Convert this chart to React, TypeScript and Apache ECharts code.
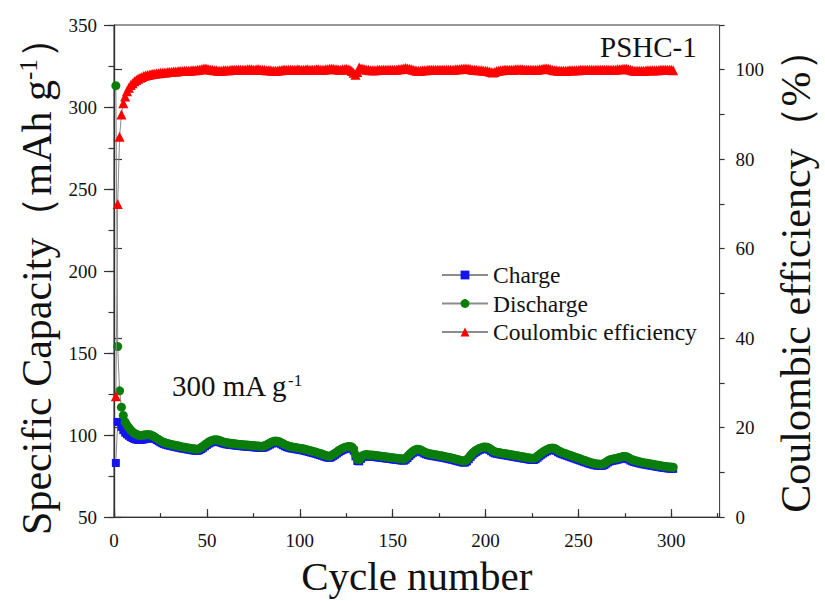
import React, { useEffect, useRef } from 'react';
import * as echarts from 'echarts';

// Charge capacity (mAh g-1), cycles 1..301
const chargeCapacity: number[] = [
  83, 108, 108, 105, 103, 101.5, 100.5, 99.6, 98.8, 98.2,
  97.6, 97.3, 97, 97, 97.1, 97.4, 97.7, 97.9, 98, 97.9,
  98.5, 97.8, 97, 96.3, 95.6, 95, 94.5, 94.1, 93.8, 93.5,
  93.3, 93, 92.8, 92.5, 92.3, 92, 91.8, 91.6, 91.4, 91.2,
  91, 90.8, 90.6, 90.5, 90.4, 90.8, 91.5, 92.3, 93.2, 94,
  94.8, 95.4, 95.8, 96.1, 96.2, 96, 95.6, 95.2, 94.8, 94.5,
  94.3, 94.1, 94, 93.9, 93.7, 93.5, 93.4, 93.3, 93.2, 93.1,
  93, 92.9, 92.8, 92.7, 92.6, 92.5, 92.4, 92.3, 92.2, 92.2,
  92.5, 93, 93.6, 94.2, 94.8, 95.2, 95.4, 95.3, 95, 94.4,
  93.8, 93.2, 92.7, 92.3, 92, 91.8, 91.6, 91.4, 91.2, 91,
  90.8, 90.6, 90.3, 90, 89.7, 89.4, 89.1, 88.8, 88.5, 88.1,
  87.8, 87.4, 87, 86.6, 86.3, 86.1, 86.5, 87.2, 88, 88.8,
  89.6, 90.3, 90.9, 91.4, 91.8, 92, 92.1, 91.8, 90.5, 87,
  84.2, 84, 85.5, 86.6, 87, 87.1, 87, 86.9, 86.8, 86.7,
  86.6, 86.4, 86.3, 86.1, 86, 85.8, 85.7, 85.5, 85.4, 85.2,
  85.1, 84.9, 84.8, 84.6, 84.5, 84.4, 85, 86, 87.2, 88.3,
  89.2, 89.9, 90.3, 90.3, 90, 89.4, 88.8, 88.3, 87.9, 87.6,
  87.4, 87.2, 87, 86.8, 86.6, 86.4, 86.2, 86, 85.7, 85.5,
  85.2, 85, 84.7, 84.4, 84.1, 83.8, 83.5, 83.2, 83.3, 84,
  85.3, 86.7, 88, 89, 89.8, 90.5, 91, 91.4, 91.7, 91.8,
  91.6, 91, 90.2, 89.4, 88.9, 88.6, 88.4, 88.2, 88, 87.8,
  87.6, 87.4, 87.2, 87, 86.8, 86.6, 86.4, 86.2, 86, 85.8,
  85.6, 85.4, 85.2, 85, 84.9, 84.8, 85.3, 86.2, 87.1, 88,
  88.8, 89.5, 90.1, 90.6, 91, 91.1, 91, 90.4, 89.6, 89,
  88.5, 88.1, 87.7, 87.3, 86.9, 86.5, 86.1, 85.7, 85.3, 84.9,
  84.5, 84.1, 83.7, 83.3, 82.9, 82.5, 82.2, 81.9, 81.6, 81.4,
  81.3, 81.2, 81.3, 81.8, 82.6, 83.4, 84, 84.3, 84.5, 84.7,
  85, 85.3, 85.6, 85.9, 86, 85.8, 85.2, 84.5, 84, 83.6,
  83.3, 83, 82.7, 82.5, 82.2, 82, 81.8, 81.6, 81.4, 81.2,
  81, 80.8, 80.6, 80.4, 80.2, 80, 79.9, 79.7, 79.6, 79.5,
  79.4,
];

// Discharge capacity (mAh g-1), cycles 1..301
const dischargeCapacity: number[] = [
  313, 154, 127, 117, 112, 108, 106, 104.5, 103, 102,
  101, 100.5, 100, 99.8, 99.8, 100, 100.2, 100.3, 100.2, 100,
  99.5, 98.8, 98, 97.3, 96.6, 96, 95.5, 95.1, 94.8, 94.5,
  94.3, 94, 93.8, 93.5, 93.3, 93, 92.8, 92.6, 92.4, 92.2,
  92, 91.8, 91.6, 91.5, 91.4, 91.8, 92.5, 93.3, 94.2, 95,
  95.8, 96.4, 96.8, 97.1, 97.2, 97, 96.6, 96.2, 95.8, 95.5,
  95.3, 95.1, 95, 94.9, 94.7, 94.5, 94.4, 94.3, 94.2, 94.1,
  94, 93.9, 93.8, 93.7, 93.6, 93.5, 93.4, 93.3, 93.2, 93.2,
  93.5, 94, 94.6, 95.2, 95.8, 96.2, 96.4, 96.3, 96, 95.4,
  94.8, 94.2, 93.7, 93.3, 93, 92.8, 92.6, 92.4, 92.2, 92,
  91.8, 91.6, 91.3, 91, 90.7, 90.4, 90.1, 89.8, 89.5, 89.1,
  88.8, 88.4, 88, 87.6, 87.3, 87.1, 87.5, 88.2, 89, 89.8,
  90.6, 91.3, 91.9, 92.4, 92.8, 93, 93.1, 92.8, 91.5, 88,
  85.2, 85, 86.5, 87.6, 88, 88.1, 88, 87.9, 87.8, 87.7,
  87.6, 87.4, 87.3, 87.1, 87, 86.8, 86.7, 86.5, 86.4, 86.2,
  86.1, 85.9, 85.8, 85.6, 85.5, 85.4, 86, 87, 88.2, 89.3,
  90.2, 90.9, 91.3, 91.3, 91, 90.4, 89.8, 89.3, 88.9, 88.6,
  88.4, 88.2, 88, 87.8, 87.6, 87.4, 87.2, 87, 86.7, 86.5,
  86.2, 86, 85.7, 85.4, 85.1, 84.8, 84.5, 84.2, 84.3, 85,
  86.3, 87.7, 89, 90, 90.8, 91.5, 92, 92.4, 92.7, 92.8,
  92.6, 92, 91.2, 90.4, 89.9, 89.6, 89.4, 89.2, 89, 88.8,
  88.6, 88.4, 88.2, 88, 87.8, 87.6, 87.4, 87.2, 87, 86.8,
  86.6, 86.4, 86.2, 86, 85.9, 85.8, 86.3, 87.2, 88.1, 89,
  89.8, 90.5, 91.1, 91.6, 92, 92.1, 92, 91.4, 90.6, 90,
  89.5, 89.1, 88.7, 88.3, 87.9, 87.5, 87.1, 86.7, 86.3, 85.9,
  85.5, 85.1, 84.7, 84.3, 83.9, 83.5, 83.2, 82.9, 82.6, 82.4,
  82.3, 82.2, 82.3, 82.8, 83.6, 84.4, 85, 85.3, 85.5, 85.7,
  86, 86.3, 86.6, 86.9, 87, 86.8, 86.2, 85.5, 85, 84.6,
  84.3, 84, 83.7, 83.5, 83.2, 83, 82.8, 82.6, 82.4, 82.2,
  82, 81.8, 81.6, 81.4, 81.2, 81, 80.9, 80.7, 80.6, 80.5,
  80.4,
];

// Coulombic efficiency (%), cycles 1..301
const coulombicEfficiency: number[] = [
  27, 70, 85, 90, 92.5, 94, 95.2, 96, 96.6, 97,
  97.4, 97.7, 98, 98.2, 98.4, 98.6, 98.7, 98.8, 98.9, 99,
  99.1, 99.1, 99.2, 99.2, 99.3, 99.3, 99.4, 99.4, 99.5, 99.5,
  99.5, 99.6, 99.6, 99.6, 99.7, 99.7, 99.7, 99.8, 99.8, 99.8,
  99.8, 99.9, 99.9, 99.9, 100, 100, 100.1, 100.2, 100.3, 100.2,
  100.1, 100, 100, 99.9, 99.9, 99.8, 99.8, 99.8, 99.9, 99.9,
  99.9, 99.9, 100, 100, 100, 100, 100, 100, 100, 100,
  100, 100.1, 100.1, 100.1, 100, 100, 100.1, 100.1, 100, 100,
  100, 99.9, 99.9, 99.9, 99.8, 99.8, 99.8, 99.8, 99.9, 99.9,
  100, 100, 100, 100, 100, 100, 100, 100, 100.1, 100,
  100, 100, 100, 100.1, 100, 100, 100, 100, 100.1, 100.1,
  100, 100, 100, 100.1, 100.1, 100.2, 100.2, 100.2, 100.1, 100.1,
  100, 100, 100.1, 100.1, 100.2, 100.1, 100, 99.7, 99.3, 98.9,
  99.5, 100.5, 100.3, 100.2, 100.1, 100, 100, 99.9, 99.9, 99.9,
  99.9, 100, 100, 100, 100, 100, 100, 100, 100, 100,
  100, 100, 100.1, 100.1, 100.2, 100.3, 100.4, 100.3, 100.2, 100.1,
  100, 99.9, 99.8, 99.8, 99.8, 99.9, 99.9, 99.9, 100, 100,
  100, 100, 100, 100, 100, 100, 100, 100, 100, 100,
  100, 100, 100, 100.1, 100.1, 100.1, 100.2, 100.2, 100.3, 100.2,
  100.2, 100.1, 100, 100, 100, 99.9, 99.9, 99.9, 99.8, 99.8,
  99.7, 99.6, 99.5, 99.4, 99.5, 99.7, 99.8, 99.9, 99.9, 100,
  100, 100, 100, 100, 100, 100.1, 100.1, 100.1, 100.1, 100.1,
  100, 100, 100, 100, 100, 100, 100, 100, 100.1, 100.1,
  100.2, 100.3, 100.3, 100.2, 100.1, 100, 99.9, 99.9, 99.8, 99.8,
  99.8, 99.8, 99.8, 99.8, 99.9, 99.9, 99.9, 99.9, 99.9, 99.9,
  100, 100, 100, 100, 100, 100, 100, 100, 100, 100,
  100, 100, 100, 100, 100, 100, 100, 100, 100, 100,
  100.1, 100.1, 100.1, 100.2, 100.2, 100.2, 100.1, 100, 99.9, 99.8,
  99.8, 99.8, 99.8, 99.8, 99.8, 99.8, 99.9, 99.9, 99.9, 99.9,
  99.9, 99.9, 99.9, 100, 100, 100, 100, 100, 100, 100,
  99.9,
];

const seriesNames = ['Charge', 'Discharge', 'Coulombic efficiency'];
const xAxisName = 'Cycle number';
const leftAxisName = 'Specific Capacity（mAh g{sup|-1}）';
const rightAxisName = 'Coulombic efficiency（%）';
const sampleLabel = 'PSHC-1';
const currentLabel = '300 mA g{sup|-1}';

const SERIF = 'Liberation Serif';
const INK = '#111';
const AXIS = '#333';

export default function App() {
  const ref = useRef<HTMLDivElement>(null);

  useEffect(() => {
    if (!ref.current) return;
    const chart = echarts.init(ref.current, null, { renderer: 'svg' });
    const toPairs = (arr: number[]) => arr.map((v, i) => [i + 1, v]);

    chart.setOption({
      animation: false,
      backgroundColor: '#ffffff',
      textStyle: { fontFamily: SERIF, color: INK },
      grid: {
        left: 114, top: 25, right: 98, bottom: 83,
        show: true, borderColor: AXIS, borderWidth: 1, backgroundColor: 'transparent',
      },
      legend: {
        orient: 'vertical',
        left: 441,
        top: 263,
        padding: 0,
        itemWidth: 46,
        itemHeight: 11,
        itemGap: 4.5,
        data: seriesNames,
        textStyle: { fontFamily: SERIF, fontSize: 23.5, color: INK, lineHeight: 22 },
      },
      xAxis: [
        {
          type: 'value', min: 0, max: 326, interval: 50, position: 'bottom',
          name: xAxisName, nameLocation: 'middle', nameGap: 36,
          nameTextStyle: { fontFamily: SERIF, fontSize: 41, color: INK },
          axisLine: { show: true, lineStyle: { color: AXIS, width: 1.2 } },
          axisTick: { show: true, inside: true, length: 8, lineStyle: { color: AXIS, width: 1.2 } },
          axisLabel: { fontFamily: SERIF, fontSize: 19, color: INK, margin: 14, showMaxLabel: false },
          splitLine: { show: false },
        },
        {
          type: 'value', min: 0, max: 326, interval: 25, position: 'bottom',
          axisLine: { show: false },
          axisTick: { show: true, inside: true, length: 4, lineStyle: { color: AXIS, width: 1.2 } },
          axisLabel: { show: false },
          splitLine: { show: false },
        },
      ],
      yAxis: [
        {
          type: 'value', position: 'left', min: 50, max: 350, interval: 50,
          name: leftAxisName, nameLocation: 'middle', nameRotate: 90, nameGap: 56,
          nameTextStyle: {
            fontFamily: SERIF, fontSize: 42, color: INK,
            padding: [0, 10, 0, 0],
            rich: { sup: { fontFamily: SERIF, fontSize: 25, color: INK, verticalAlign: 'top' } },
          },
          axisLine: { show: true, lineStyle: { color: AXIS, width: 1.2 } },
          axisTick: { show: true, inside: false, length: 10, lineStyle: { color: AXIS, width: 1.2 } },
          axisLabel: { fontFamily: SERIF, fontSize: 19, color: INK, margin: 17 },
          splitLine: { show: false },
        },
        {
          type: 'value', position: 'right', min: 0, max: 110, interval: 20,
          name: rightAxisName, nameLocation: 'middle', nameRotate: 90, nameGap: 50,
          nameTextStyle: { fontFamily: SERIF, fontSize: 42, color: INK },
          axisLine: { show: true, lineStyle: { color: AXIS, width: 1.2 } },
          axisTick: { show: true, inside: false, length: 8, lineStyle: { color: AXIS, width: 1.2 } },
          axisLabel: { fontFamily: SERIF, fontSize: 19, color: INK, margin: 16, showMaxLabel: false },
          splitLine: { show: false },
        },
        {
          type: 'value', position: 'left', min: 50, max: 350, interval: 25,
          axisLine: { show: false },
          axisTick: { show: true, inside: false, length: 5.5, lineStyle: { color: AXIS, width: 1.2 } },
          axisLabel: { show: false },
          splitLine: { show: false },
        },
        {
          type: 'value', position: 'right', min: 0, max: 110, interval: 10,
          axisLine: { show: false },
          axisTick: { show: true, inside: false, length: 5, lineStyle: { color: AXIS, width: 1.2 } },
          axisLabel: { show: false },
          splitLine: { show: false },
        },
      ],
      series: [
        {
          name: seriesNames[0], type: 'line', xAxisIndex: 0, yAxisIndex: 0,
          data: toPairs(chargeCapacity),
          symbol: 'rect', symbolSize: 8,
          itemStyle: { color: '#1414f0', borderWidth: 0 },
          lineStyle: { color: '#8c8c8c', width: 1 },
          z: 2,
        },
        {
          name: seriesNames[1], type: 'line', xAxisIndex: 0, yAxisIndex: 0,
          data: toPairs(dischargeCapacity),
          symbol: 'circle', symbolSize: 9,
          itemStyle: { color: '#0a7d0a', borderWidth: 0 },
          lineStyle: { color: '#8c8c8c', width: 1 },
          z: 3,
        },
        {
          name: seriesNames[2], type: 'line', xAxisIndex: 0, yAxisIndex: 1,
          data: toPairs(coulombicEfficiency),
          symbol: 'triangle', symbolSize: 10,
          itemStyle: { color: '#ff0000', borderWidth: 0 },
          lineStyle: { color: '#8c8c8c', width: 1 },
          z: 4,
        },
      ],
      graphic: [
        {
          type: 'text', x: 600, y: 47,
          style: {
            text: sampleLabel, fontFamily: SERIF, fontSize: 29, fill: INK,
            align: 'left', verticalAlign: 'middle',
          },
        },
        {
          type: 'text', x: 172, y: 386,
          style: {
            text: currentLabel, fontFamily: SERIF, fontSize: 29, fill: INK,
            align: 'left', verticalAlign: 'middle',
            rich: { sup: { fontFamily: SERIF, fontSize: 17, fill: INK, verticalAlign: 'top' } },
          },
        },
      ],
    });

    return () => chart.dispose();
  }, []);

  return (
    <div
      ref={ref}
      style={{ position: 'fixed', left: 0, top: 0, width: 825, height: 601, background: '#fff' }}
    />
  );
}
